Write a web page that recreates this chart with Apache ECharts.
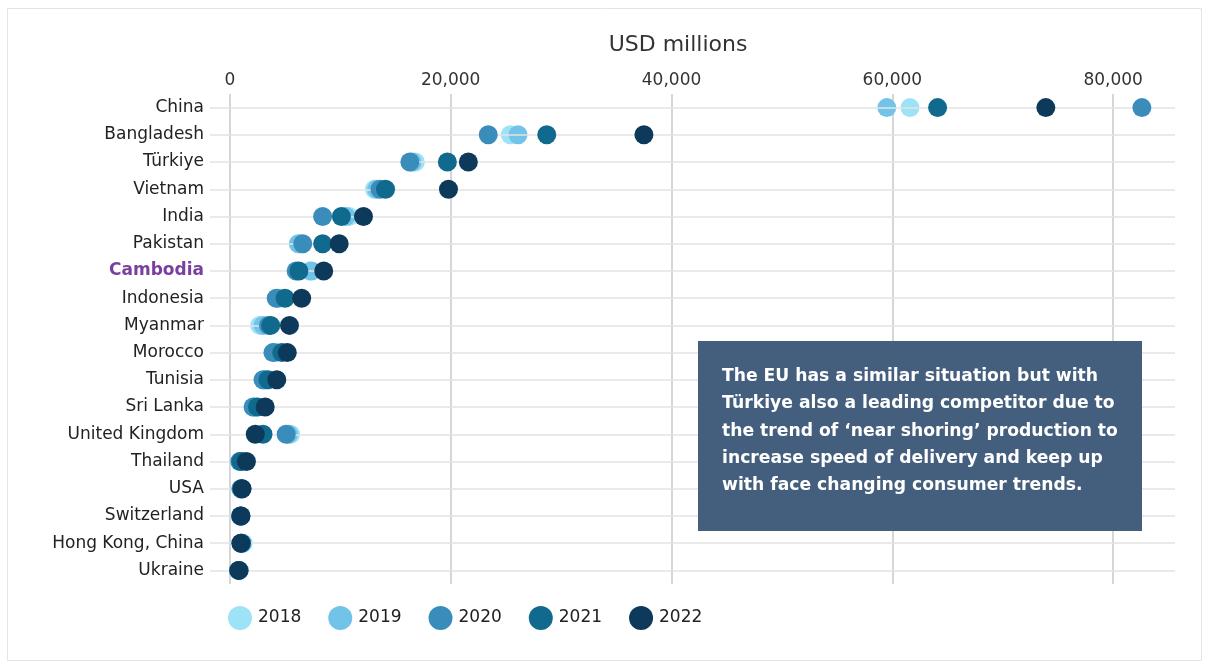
<!DOCTYPE html>
<html>
<head>
<meta charset="utf-8">
<script src="https://cdn.jsdelivr.net/npm/echarts@6/dist/echarts.min.js"></script>
<style>
  html, body { margin: 0; padding: 0; background: #ffffff; }
  #chart { width: 1206px; height: 665px; }
</style>
</head>
<body>
<div id="chart"></div>
<script>
// Garment exports by supplier country, USD millions
const countries = ['China', 'Bangladesh', 'Türkiye', 'Vietnam', 'India', 'Pakistan', 'Cambodia',
  'Indonesia', 'Myanmar', 'Morocco', 'Tunisia', 'Sri Lanka', 'United Kingdom', 'Thailand',
  'USA', 'Switzerland', 'Hong Kong, China', 'Ukraine'];

const years = ['2018', '2019', '2020', '2021', '2022'];

const v2018 = [61600, 25400, 16800, 13100, 10800, 6400, 7200, 4300, 2700, 4000, 3100, 2200, 5500, 900, 1000, 1000, 1200, 800];
const v2019 = [59500, 26100, 16500, 13300, 10500, 6200, 7400, 4400, 3000, 4100, 3200, 2300, 5300, 1000, 1050, 1000, 1100, 800];
const v2020 = [82600, 23400, 16300, 13600, 8400, 6600, 6000, 4200, 3500, 3900, 3000, 2100, 5100, 900, 1000, 950, 1000, 800];
const v2021 = [64100, 28700, 19700, 14100, 10100, 8400, 6250, 5000, 3700, 4700, 3450, 2500, 3000, 1000, 1100, 1000, 1050, 850];
const v2022 = [73900, 37500, 21600, 19800, 12100, 9900, 8500, 6500, 5400, 5200, 4250, 3200, 2300, 1500, 1100, 1000, 1000, 800];

const xTicks = [0, 20000, 40000, 60000, 80000];

const highlight = 'Cambodia';
const noteText = 'The EU has a similar situation but with\nTürkiye also a leading competitor due to\nthe trend of \u2018near shoring\u2019 production to\nincrease speed of delivery and keep up\nwith face changing consumer trends.';

const colors = ['#9ee2f7', '#72c3e8', '#3a8dba', '#0f6a8e', '#0d3a5a'];
const seriesValues = [v2018, v2019, v2020, v2021, v2022];
const FONT = 'DejaVu Sans';

const chart = echarts.init(document.getElementById('chart'), null, { renderer: 'canvas' });

chart.setOption({
  backgroundColor: '#ffffff',
  animation: false,
  color: colors,
  title: {
    text: 'USD millions',
    left: 673,
    textAlign: 'center',
    top: 29,
    textStyle: { fontFamily: FONT, fontSize: 22, fontWeight: 'normal', color: '#333333' }
  },
  legend: {
    data: years,
    left: 223,
    top: 601,
    icon: 'circle',
    itemWidth: 24,
    itemHeight: 24,
    itemGap: 27,
    textStyle: { fontFamily: FONT, fontSize: 17, color: '#222222', padding: [0, 0, 0, 1] }
  },
  grid: { left: 210, right: 31, top: 94, bottom: 81, containLabel: false },
  xAxis: {
    type: 'value',
    position: 'top',
    min: -1800,
    max: 85600,
    axisLine: { show: false },
    axisTick: { show: false, customValues: xTicks },
    axisLabel: {
      customValues: xTicks,
      margin: 5,
      fontFamily: FONT,
      fontSize: 17,
      color: '#333333',
      formatter: v => v.toLocaleString('en-US')
    },
    splitLine: { show: true, lineStyle: { color: '#d6d6d6', width: 2 } }
  },
  yAxis: {
    type: 'category',
    data: countries,
    inverse: true,
    boundaryGap: true,
    axisLine: { show: false },
    axisTick: { show: false },
    splitLine: { show: false },
    axisLabel: {
      margin: 6,
      fontFamily: FONT,
      fontSize: 17,
      color: '#222222',
      formatter: v => v === highlight ? '{hl|' + v + '}' : v,
      rich: {
        hl: { fontFamily: FONT, fontSize: 17, fontWeight: 'bold', color: '#7a3f9e' }
      }
    }
  },
  series: years.map((y, i) => {
    const s = {
      name: y,
      type: 'scatter',
      symbol: 'circle',
      symbolSize: 19,
      z: 3 + i,
      itemStyle: { color: colors[i], opacity: 1 },
      data: seriesValues[i].map((v, k) => [v, countries[k]])
    };
    if (i === 0) {
      // row guide lines through each category centre
      s.markLine = {
        silent: true,
        symbol: 'none',
        label: { show: false },
        lineStyle: { color: '#e3e3e3', width: 1.5, type: 'solid' },
        data: countries.map(c => ({ yAxis: c }))
      };
    }
    return s;
  }),
  graphic: [
    {
      type: 'rect',
      left: 5, top: 6,
      shape: { width: 1194, height: 652 },
      style: { fill: 'none', stroke: '#e4e4e4', lineWidth: 1 },
      z: 0
    },
    {
      type: 'rect',
      left: 698, top: 341,
      z: 100,
      shape: { width: 444, height: 190 },
      style: { fill: 'rgba(64, 91, 122, 0.98)' }
    },
    {
      type: 'text',
      left: 722, top: 363,
      z: 101,
      style: {
        text: noteText,
        fill: '#ffffff',
        font: 'bold 17.2px "DejaVu Sans"',
        lineHeight: 27.3
      }
    }
  ]
});
</script>
</body>
</html>
